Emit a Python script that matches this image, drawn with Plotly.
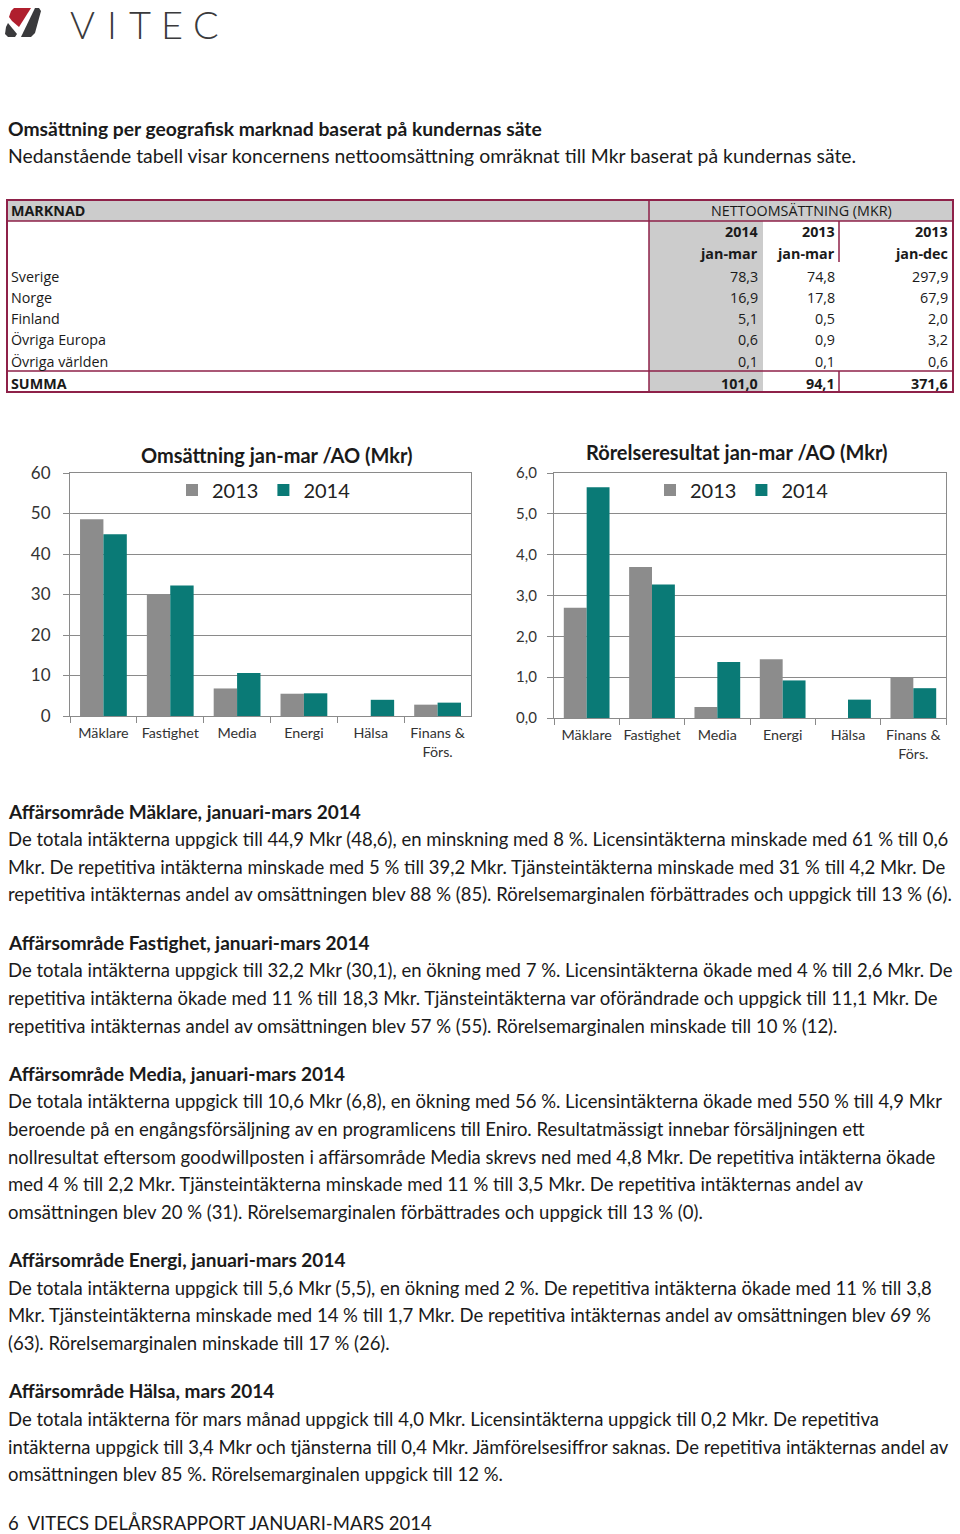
import plotly.graph_objects as go

W, H = 960, 1534

# ---------------- data ----------------
markets = ["Sverige", "Norge", "Finland", "Övriga Europa", "Övriga världen"]
net_2014_q1 = [78.3, 16.9, 5.1, 0.6, 0.1]
net_2013_q1 = [74.8, 17.8, 0.5, 0.9, 0.1]
net_2013_full = [297.9, 67.9, 2.0, 3.2, 0.6]
net_sums = [101.0, 94.1, 371.6]
table_years = ["2014", "2013", "2013"]
table_periods = ["jan-mar", "jan-mar", "jan-dec"]

segments = ["Mäklare", "Fastighet", "Media", "Energi", "Hälsa", "Finans &<br>Förs."]
oms_2013 = [48.6, 30.1, 6.8, 5.5, None, 2.8]
oms_2014 = [44.9, 32.2, 10.6, 5.6, 4.0, 3.3]
rr_2013 = [2.7, 3.7, 0.27, 1.44, None, 0.99]
rr_2014 = [5.65, 3.27, 1.37, 0.92, 0.45, 0.73]
oms_ticks = [0, 10, 20, 30, 40, 50, 60]
rr_ticks = [0, 1, 2, 3, 4, 5, 6]

heading = "Omsättning per geografisk marknad baserat på kundernas säte"
subheading = "Nedanstående tabell visar koncernens nettoomsättning omräknat till Mkr baserat på kundernas säte."

sections = [
    ("Affärsområde Mäklare, januari-mars 2014", [
        "De totala intäkterna uppgick till 44,9 Mkr (48,6), en minskning med 8 %. Licensintäkterna minskade med 61 % till 0,6",
        "Mkr. De repetitiva intäkterna minskade med 5 % till 39,2 Mkr. Tjänsteintäkterna minskade med 31 % till 4,2 Mkr. De",
        "repetitiva intäkternas andel av omsättningen blev 88 % (85). Rörelsemarginalen förbättrades och uppgick till 13 % (6).",
    ]),
    ("Affärsområde Fastighet, januari-mars 2014", [
        "De totala intäkterna uppgick till 32,2 Mkr (30,1), en ökning med 7 %. Licensintäkterna ökade med 4 % till 2,6 Mkr. De",
        "repetitiva intäkterna ökade med 11 % till 18,3 Mkr. Tjänsteintäkterna var oförändrade och uppgick till 11,1 Mkr. De",
        "repetitiva intäkternas andel av omsättningen blev 57 % (55). Rörelsemarginalen minskade till 10 % (12).",
    ]),
    ("Affärsområde Media, januari-mars 2014", [
        "De totala intäkterna uppgick till 10,6 Mkr (6,8), en ökning med 56 %. Licensintäkterna ökade med 550 % till 4,9 Mkr",
        "beroende på en engångsförsäljning av en programlicens till Eniro. Resultatmässigt innebar försäljningen ett",
        "nollresultat eftersom goodwillposten i affärsområde Media skrevs ned med 4,8 Mkr. De repetitiva intäkterna ökade",
        "med 4 % till 2,2 Mkr. Tjänsteintäkterna minskade med 11 % till 3,5 Mkr. De repetitiva intäkternas andel av",
        "omsättningen blev 20 % (31). Rörelsemarginalen förbättrades och uppgick till 13 % (0).",
    ]),
    ("Affärsområde Energi, januari-mars 2014", [
        "De totala intäkterna uppgick till 5,6 Mkr (5,5), en ökning med 2 %. De repetitiva intäkterna ökade med 11 % till 3,8",
        "Mkr. Tjänsteintäkterna minskade med 14 % till 1,7 Mkr. De repetitiva intäkternas andel av omsättningen blev 69 %",
        "(63). Rörelsemarginalen minskade till 17 % (26).",
    ]),
    ("Affärsområde Hälsa, mars 2014", [
        "De totala intäkterna för mars månad uppgick till 4,0 Mkr. Licensintäkterna uppgick till 0,2 Mkr. De repetitiva",
        "intäkterna uppgick till 3,4 Mkr och tjänsterna till 0,4 Mkr. Jämförelsesiffror saknas. De repetitiva intäkternas andel av",
        "omsättningen blev 85 %. Rörelsemarginalen uppgick till 12 %.",
    ]),
]
footer = "6  VITECS DELÅRSRAPPORT JANUARI-MARS 2014"
logo_letters = ["V", "I", "T", "E", "C"]

# ---------------- style ----------------
GREY_BAR = "#8c8c8c"
TEAL = "#0a7a76"
CRIMSON = "#8e2149"
TABLE_GREY = "#cccccc"
AXIS_GREY = "#8a8a8a"
TXT = "#1a1a1a"
BODY_FONT = "Lato"
TABLE_FONT = "Open Sans"
CHART_FONT = "Lato"
BODY_SIZE = 18.5
HEAD_SIZE = 19


def fx(x):
    return x / W


def fy(y):
    return 1 - y / H


def fmt(v):
    return f"{v:.1f}".replace(".", ",")


annotations = []
shapes = []


def text(x, y, s, size, bold=False, anchor="left", font=BODY_FONT, color=TXT, weight=None):
    f = dict(family=font, size=size, color=color)
    if weight is not None:
        f["weight"] = weight
    elif bold:
        f["weight"] = "bold"
    annotations.append(dict(x=fx(x), y=fy(y), xref="paper", yref="paper", text=s,
                            showarrow=False, xanchor=anchor, yanchor="middle",
                            font=f, borderpad=0))


def rect(x0, y0, x1, y1, fill=None, line=None, lw=1.5):
    shapes.append(dict(type="rect", xref="paper", yref="paper",
                       x0=fx(x0), x1=fx(x1), y0=fy(y1), y1=fy(y0),
                       fillcolor=fill if fill else "rgba(0,0,0,0)",
                       line=dict(color=line if line else "rgba(0,0,0,0)", width=lw if line else 0),
                       layer="below"))


def hline(x0, x1, y, color=CRIMSON, lw=1.5):
    shapes.append(dict(type="line", xref="paper", yref="paper", x0=fx(x0), x1=fx(x1),
                       y0=fy(y), y1=fy(y), line=dict(color=color, width=lw)))


def vline(x, y0, y1, color=CRIMSON, lw=1.5):
    shapes.append(dict(type="line", xref="paper", yref="paper", x0=fx(x), x1=fx(x),
                       y0=fy(y0), y1=fy(y1), line=dict(color=color, width=lw)))


def poly(points, color):
    d = "M " + " L ".join(f"{fx(px):.5f},{fy(py):.5f}" for px, py in points) + " Z"
    shapes.append(dict(type="path", xref="paper", yref="paper", path=d,
                       fillcolor=color, line=dict(width=0)))


# ---------------- logo ----------------
poly([(14, 8), (31, 8), (19, 27), (12, 21), (9, 17), (11, 11)], "#b01f2e")
poly([(8, 23), (17, 34), (15, 37), (8, 37), (5, 34), (6, 27)], "#3a3a3c")
poly([(35, 8), (39, 8), (41, 11), (35, 33), (31, 37), (21, 37)], "#3a3a3c")
for ch, cx in zip(logo_letters, [82, 112, 140, 172, 206]):
    annotations.append(dict(x=fx(cx), y=fy(24.5), xref="paper", yref="paper", text=ch,
                            showarrow=False, xanchor="center", yanchor="middle", borderpad=0,
                            font=dict(family="Lato", size=38, color="#3a3a3c", weight=300)))

# ---------------- headings ----------------
text(7, 128, heading, 19.3, bold=True)
text(7, 156, subheading, 19.4)

# ---------------- table ----------------
TL, TR, TT, TB = 7, 953, 200, 392
DIV1, DIV2 = 649, 839
rect(TL, TT, TR, 221, fill=TABLE_GREY)
rect(DIV1, 221, 763, TB, fill=TABLE_GREY)
rect(TL, TT, TR, TB, line=CRIMSON, lw=2)
hline(TL, TR, 221)
hline(TL, TR, 371)
vline(DIV1, TT, TB)
vline(DIV2, 221, 262)
vline(DIV2, 371, TB)

TS = 14.3
text(10, 211, "MARKNAD", TS, bold=True, font=TABLE_FONT)
text((DIV1 + TR) / 2, 211, "NETTOOMSÄTTNING (MKR)", TS, font=TABLE_FONT, anchor="center")
col_right = [759, 836, 949]
for i in range(3):
    text(col_right[i], 232, table_years[i], TS, bold=True, font=TABLE_FONT, anchor="right")
    text(col_right[i], 254, table_periods[i], TS, bold=True, font=TABLE_FONT, anchor="right")
row_y = [276, 297, 319, 340, 361]
for j, m in enumerate(markets):
    text(10, row_y[j], m, TS, font=TABLE_FONT)
    for i, col in enumerate([net_2014_q1, net_2013_q1, net_2013_full]):
        text(col_right[i], row_y[j], fmt(col[j]), TS, font=TABLE_FONT, anchor="right")
text(10, 383, "SUMMA", TS, bold=True, font=TABLE_FONT)
for i in range(3):
    text(col_right[i], 383, fmt(net_sums[i]), TS, bold=True, font=TABLE_FONT, anchor="right")

# ---------------- charts ----------------
fig = go.Figure()
fig.add_trace(go.Bar(x=segments, y=oms_2013, name="2013", marker=dict(color=GREY_BAR, line=dict(width=0)),
                     xaxis="x", yaxis="y", legend="legend"))
fig.add_trace(go.Bar(x=segments, y=oms_2014, name="2014", marker=dict(color=TEAL, line=dict(width=0)),
                     xaxis="x", yaxis="y", legend="legend"))
fig.add_trace(go.Bar(x=segments, y=rr_2013, name="2013", marker=dict(color=GREY_BAR, line=dict(width=0)),
                     xaxis="x2", yaxis="y2", legend="legend2"))
fig.add_trace(go.Bar(x=segments, y=rr_2014, name="2014", marker=dict(color=TEAL, line=dict(width=0)),
                     xaxis="x2", yaxis="y2", legend="legend2"))

text(277, 455, "Omsättning jan-mar /AO (Mkr)", 20, bold=True, font=CHART_FONT, anchor="center")
text(736, 452, "Rörelseresultat jan-mar /AO (Mkr)", 20, bold=True, font=CHART_FONT, anchor="center")

# ---------------- body text ----------------
y = 811
for title, lines in sections:
    text(7, y, title, HEAD_SIZE, bold=True)
    yy = y + 28
    for ln in lines:
        text(7, yy, ln, BODY_SIZE)
        yy += 27.7
    y = yy + 20
text(7, 1523, footer, BODY_SIZE)

xcommon = dict(type="category", showline=True, mirror=True, linecolor=AXIS_GREY, linewidth=1.2,
               ticks="outside", tickson="boundaries", ticklen=6, tickcolor=AXIS_GREY,
               showgrid=False, tickfont=dict(family=CHART_FONT, size=14.3, color="#333333"),
               tickangle=0, ticklabelstandoff=4, fixedrange=True)
ycommon = dict(showline=True, mirror=True, linecolor=AXIS_GREY, linewidth=1.2,
               ticks="outside", ticklen=6, tickcolor=AXIS_GREY,
               showgrid=True, gridcolor=AXIS_GREY, gridwidth=1, zeroline=False, fixedrange=True)

fig.update_layout(
    width=W, height=H, margin=dict(l=0, r=0, t=0, b=0, autoexpand=False),
    paper_bgcolor="white", plot_bgcolor="white",
    separators=", ",
    barmode="group", bargap=0.3, bargroupgap=0,
    xaxis=dict(domain=[fx(70), fx(471)], anchor="y", **xcommon),
    yaxis=dict(domain=[fy(716), fy(473)], anchor="x", range=[0, 60], tickvals=oms_ticks,
               tickfont=dict(family=CHART_FONT, size=17, color="#333333"), ticklabelstandoff=9, **ycommon),
    xaxis2=dict(domain=[fx(554), fx(946)], anchor="y2", **xcommon),
    yaxis2=dict(domain=[fy(718), fy(473)], anchor="x2", range=[0, 6], tickvals=rr_ticks, tickformat=".1f",
                tickfont=dict(family=CHART_FONT, size=15, color="#333333"), ticklabelstandoff=7, **ycommon),
    legend=dict(orientation="h", x=fx(172), y=fy(490), xanchor="left", yanchor="middle",
                font=dict(family=CHART_FONT, size=20, color="#222222"), bgcolor="rgba(0,0,0,0)",
                itemwidth=30, traceorder="normal"),
    legend2=dict(orientation="h", x=fx(650), y=fy(490), xanchor="left", yanchor="middle",
                 font=dict(family=CHART_FONT, size=20, color="#222222"), bgcolor="rgba(0,0,0,0)",
                 itemwidth=30, traceorder="normal"),
    showlegend=True,
    annotations=annotations,
    shapes=shapes,
)

fig.write_html("out.html", config={"displayModeBar": False},
               post_script="document.body.style.margin='0px';document.body.style.overflow='hidden';")
